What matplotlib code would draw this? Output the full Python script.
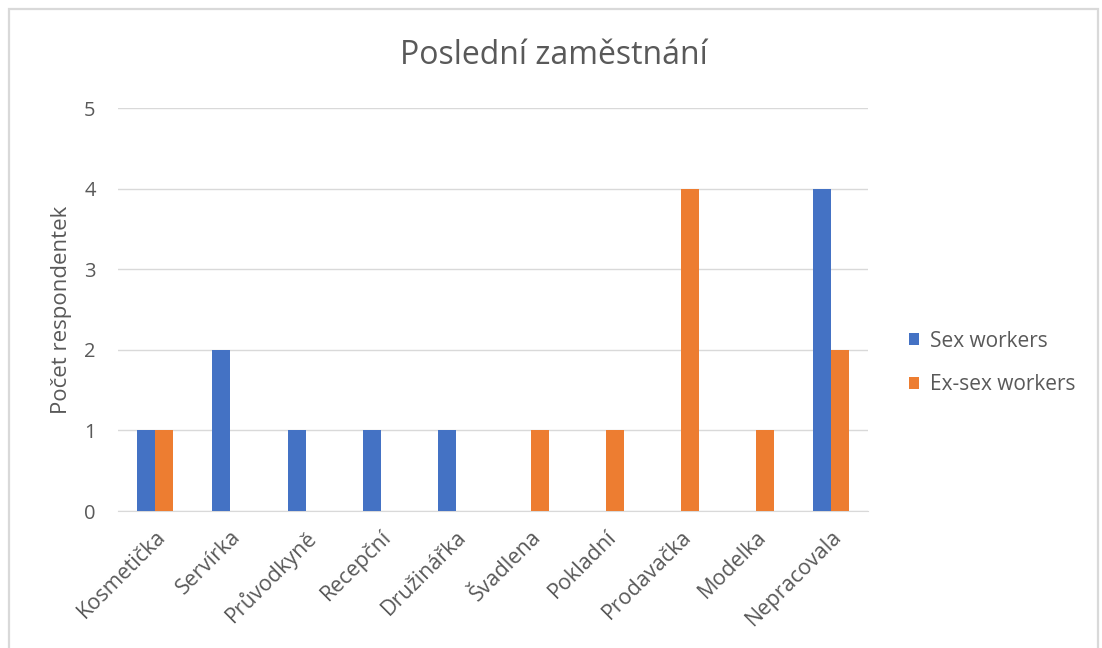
import matplotlib
matplotlib.use("Agg")
import matplotlib.pyplot as plt
import numpy as np

categories = ["Kosmetička", "Servírka", "Průvodkyně", "Recepční", "Družinářka",
              "Švadlena", "Pokladní", "Prodavačka", "Modelka", "Nepracovala"]
sex_workers = [1, 2, 1, 1, 1, 0, 0, 0, 0, 4]
ex_sex_workers = [1, 0, 0, 0, 0, 1, 1, 4, 1, 2]
yticks = [0, 1, 2, 3, 4, 5]

grey = "#595959"
plt.rcParams["font.family"] = ["Open Sans", "DejaVu Sans"]

fig = plt.figure(figsize=(11.02, 6.48), dpi=100)
ax = fig.add_axes([0.107, 0.2114, 0.681, 0.6219])

# light frame around the chart area (bottom edge is cut off in the original)
fig.patches.append(plt.Rectangle((0.0082, -0.05), 0.9886, 1.036, transform=fig.transFigure,
                                 fill=False, edgecolor="#D9D9D9", linewidth=1.6))

x = np.arange(len(categories))
w = 0.24
ax.bar(x - w / 2, sex_workers, w, color="#4472C4", label="Sex workers", zorder=3)
ax.bar(x + w / 2, ex_sex_workers, w, color="#ED7D31", label="Ex-sex workers", zorder=3)

ax.set_xlim(-0.5, len(categories) - 0.5)
ax.set_ylim(0, 5)
ax.set_yticks(yticks)
ax.yaxis.grid(True, color="#D9D9D9", linewidth=1, zorder=0)
ax.set_axisbelow(True)
for s in ["top", "right", "left"]:
    ax.spines[s].set_visible(False)
ax.spines["bottom"].set_color("#D9D9D9")
ax.tick_params(axis="y", length=0, colors=grey, labelsize=14.5, pad=16)
ax.tick_params(axis="x", length=0, colors=grey, labelsize=15.5, pad=11)
ax.set_xticks(x)
ax.set_xticklabels(categories, rotation=45, ha="right", rotation_mode="anchor")

ax.set_ylabel("Počet respondentek", color=grey, fontsize=16, labelpad=9)
fig.text(0.503, 0.915, "Poslední zaměstnání", color=grey, fontsize=23,
         ha="center", va="center")

leg = ax.legend(loc="center left", bbox_to_anchor=(890 / 1102, 1 - 363 / 648),
                bbox_transform=fig.transFigure, frameon=False,
                fontsize=15, labelcolor=grey, handlelength=0.5, handleheight=0.5,
                handletextpad=0.5, labelspacing=1.1)

fig.savefig("out.png", dpi=100)
